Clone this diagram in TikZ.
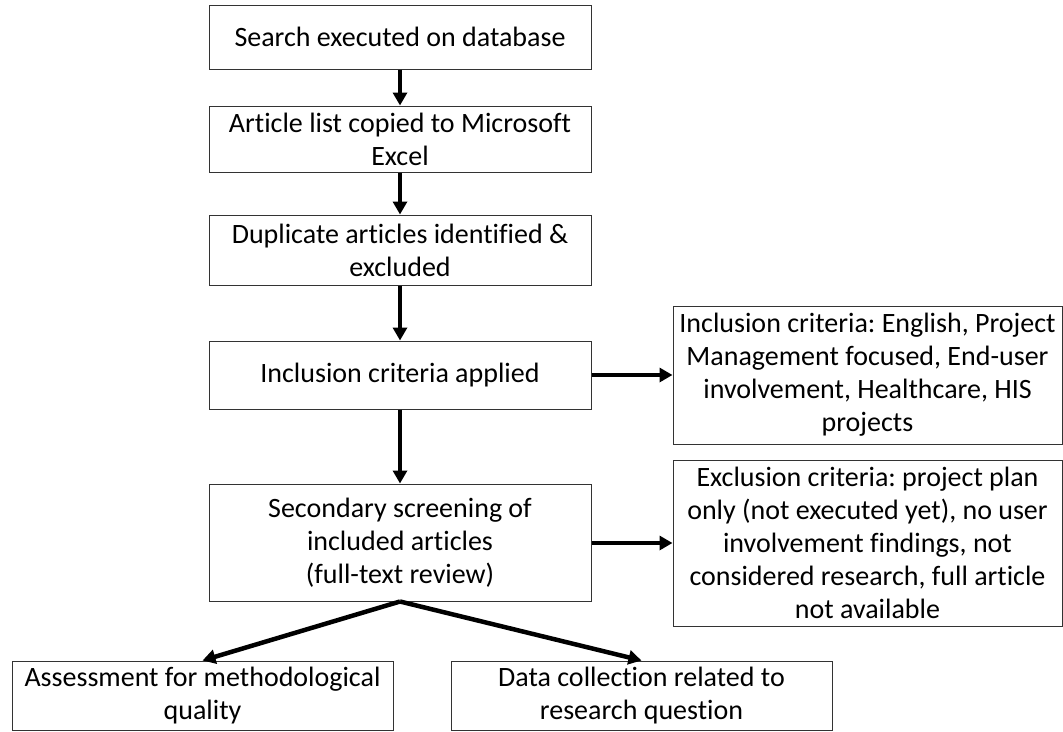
\documentclass[tikz,border=0pt]{standalone}
\usepackage{fontspec}
\setmainfont{Carlito}[Ligatures=NoCommon]
\frenchspacing
\usetikzlibrary{arrows.meta}
\begin{document}
\begin{tikzpicture}[x=1pt,y=-1pt,
  box/.style={draw=black!80, line width=1pt, fill=white, align=center, inner sep=0pt,
    font=\fontsize{28}{33}\selectfont},
  arr/.style={line width=4.5pt, -{Triangle[length=13pt,width=14pt]}}]
\useasboundingbox (0,0) rectangle (1063,731);
\node[box, minimum width=382pt, minimum height=64pt] (s1) at (400,37) {Search executed on database};
\node[box, minimum width=382pt, minimum height=66pt] (s2) at (400,139) {Article list copied to Microsoft\\Excel};
\node[box, minimum width=382pt, minimum height=70pt] (s3) at (400,250) {Duplicate articles identified \&\\excluded};
\node[box, minimum width=382pt, minimum height=68pt] (s4) at (400,375) {Inclusion criteria applied};
\node[box, minimum width=382pt, minimum height=117pt] (s5) at (400,542.5) {Secondary screening of\\included articles\\(full-text review)};
\node[box, minimum width=389pt, minimum height=138pt] (inc) at (867.5,375) {Inclusion criteria: English, Project\\Management focused, End-user\\involvement, Healthcare, HIS\\projects};
\node[box, minimum width=389pt, minimum height=166pt] (exc) at (867.5,543) {Exclusion criteria: project plan\\only (not executed yet), no user\\involvement findings, not\\considered research, full article\\not available};
\node[box, minimum width=381pt, minimum height=69pt] (as) at (202.5,695.5) {Assessment for methodological\\quality};
\node[box, minimum width=381pt, minimum height=69pt] (dc) at (641.5,695.5) {Data collection related to\\research question};
\draw[arr] (s1) -- (s2);
\draw[arr] (s2) -- (s3);
\draw[arr] (s3) -- (s4);
\draw[arr] (s4) -- (s5);
\draw[arr] (s4.east) -- (inc.west);
\draw[arr] (s5.east |- exc.west) -- (exc.west);
\draw[arr] (s5.south) -- (as.north);
\draw[arr] (s5.south) -- (dc.north);
\end{tikzpicture}
\end{document}
